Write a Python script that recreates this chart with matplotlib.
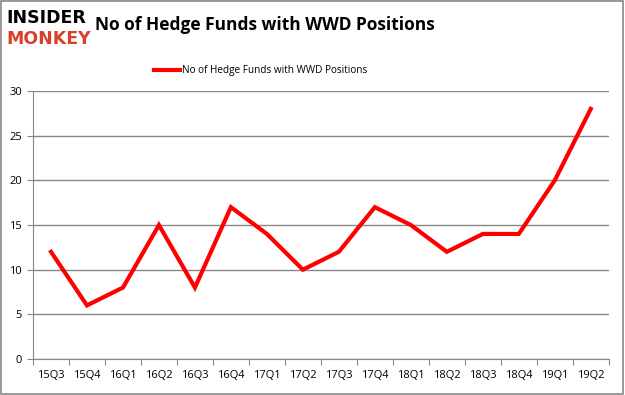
import matplotlib
matplotlib.use('Agg')
import matplotlib.pyplot as plt
from matplotlib.patches import Rectangle

quarters = ['15Q3', '15Q4', '16Q1', '16Q2', '16Q3', '16Q4', '17Q1', '17Q2',
            '17Q3', '17Q4', '18Q1', '18Q2', '18Q3', '18Q4', '19Q1', '19Q2']
funds = [12, 6, 8, 15, 8, 17, 14, 10, 12, 17, 15, 12, 14, 14, 20, 28]
yticks = [0, 5, 10, 15, 20, 25, 30]

plt.rcParams['font.family'] = ['Open Sans', 'DejaVu Sans']

fig = plt.figure(figsize=(6.25, 3.95), dpi=100)
fig.patches.append(Rectangle((0.002, 0.003), 0.995, 0.994, transform=fig.transFigure,
                             fill=False, edgecolor='#888888', linewidth=1.2))

ax = fig.add_axes([0.0528, 0.0911, 0.9212, 0.6785])
x = list(range(len(quarters)))
ax.plot(x, funds, color='#ff0000', linewidth=3, solid_joinstyle='miter',
        label='No of Hedge Funds with WWD Positions')

ax.set_xlim(-0.5, len(quarters) - 0.5)
ax.set_ylim(0, 30)
ax.set_yticks(yticks)
ax.set_xticks([i - 0.5 for i in range(len(quarters) + 1)])
ax.set_xticklabels([])
ax.set_xticks(x, minor=True)
ax.set_xticklabels(quarters, minor=True)
ax.tick_params(axis='x', which='minor', length=0, pad=8, labelsize=8)
ax.tick_params(axis='x', which='major', length=4, color='#888888')
ax.tick_params(axis='y', length=4, color='#888888', labelsize=8, pad=4)
ax.grid(axis='y', color='#888888', linewidth=1)
ax.set_axisbelow(True)
for s in ['top', 'right']:
    ax.spines[s].set_visible(False)
ax.spines['left'].set_color('#888888')
ax.spines['bottom'].set_color('#888888')

# logo
fig.text(0.01, 0.955, 'INSIDER', fontsize=12.5, fontweight='bold', color='black',
         va='center', ha='left', family='DejaVu Sans')
fig.text(0.01, 0.9, 'MONKEY', fontsize=12.5, fontweight='bold', color='#d9402b',
         va='center', ha='left', family='DejaVu Sans')
fig.text(0.152, 0.937, 'No of Hedge Funds with WWD Positions', fontsize=12.5,
         fontweight='bold', va='center', ha='left')

ax.legend(loc='upper center', bbox_to_anchor=(0.396, 1.13), frameon=False,
          fontsize=7.2, handlelength=2.6, handletextpad=0.2)

fig.savefig('out.png', dpi=100)
